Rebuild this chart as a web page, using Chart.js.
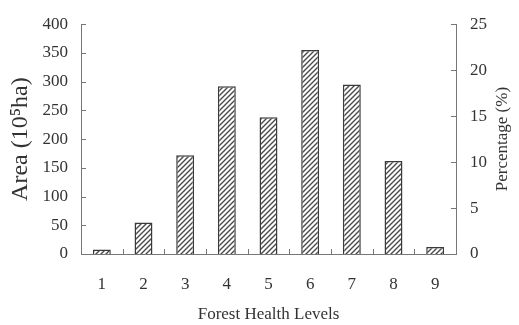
<!DOCTYPE html>
<html>
<head>
<meta charset="utf-8">
<script src="https://cdn.jsdelivr.net/npm/chart.js@4.4.0/dist/chart.umd.min.js"></script>
<style>
  html, body { margin: 0; padding: 0; background: #fff; }
  #wrap { width: 519px; height: 325px; }
</style>
</head>
<body>
<div id="wrap"><canvas id="c" width="519" height="325"></canvas></div>
<script>
var levels = ['1', '2', '3', '4', '5', '6', '7', '8', '9'];
var areaValues = [8, 55, 172, 292, 238, 355, 295, 162, 12];
var areaTicks = [0, 50, 100, 150, 200, 250, 300, 350, 400];
var pctTicks = [0, 5, 10, 15, 20, 25];

var FONT = '"Liberation Serif", "Times New Roman", serif';
var TXT = '#333';
var AXIS = '#777';

// diagonal hatch fill for the bars
function makeHatch() {
    var size = 5;
    var cv = document.createElement('canvas');
    cv.width = size; cv.height = size;
    var g = cv.getContext('2d');
    g.fillStyle = '#fff';
    g.fillRect(0, 0, size, size);
    g.strokeStyle = '#4a4a4a';
    g.lineWidth = 1.4;
    g.beginPath();
    g.moveTo(-1, size + 1); g.lineTo(size + 1, -1);
    g.moveTo(-1, 1); g.lineTo(1, -1);
    g.moveTo(size - 1, size + 1); g.lineTo(size + 1, size - 1);
    g.stroke();
    return g.createPattern(cv, 'repeat');
}

// small inward tick marks + right title
var innerTicks = {
    id: 'innerTicks',
    afterDraw: function(chart) {
        var ctx = chart.ctx;
        var y = chart.scales.y, y2 = chart.scales.y2, x = chart.scales.x;
        var area = chart.chartArea;
        ctx.save();
        ctx.strokeStyle = AXIS;
        ctx.lineWidth = 1;
        ctx.beginPath();
        areaTicks.forEach(function(v) {
            var py = Math.round(y.getPixelForValue(v)) + 0.5;
            ctx.moveTo(area.left, py); ctx.lineTo(area.left + 5, py);
        });
        pctTicks.forEach(function(v) {
            var py = Math.round(y2.getPixelForValue(v)) + 0.5;
            ctx.moveTo(area.right, py); ctx.lineTo(area.right - 5, py);
        });
        for (var i = 0; i < levels.length - 1; i++) {
            var px = Math.round((x.getPixelForValue(i) + x.getPixelForValue(i + 1)) / 2) + 0.5;
            ctx.moveTo(px, area.bottom); ctx.lineTo(px, area.bottom - 5);
        }
        ctx.stroke();

        ctx.fillStyle = TXT;
        ctx.font = '17px ' + FONT;
        ctx.textAlign = 'center';
        ctx.textBaseline = 'middle';
        ctx.translate(503, (area.top + area.bottom) / 2);
        ctx.rotate(-Math.PI / 2);
        ctx.fillText('Percentage (%)', 0, 0);
        ctx.restore();
    }
};

new Chart(document.getElementById('c'), {
    type: 'bar',
    data: {
        labels: levels,
        datasets: [{
            data: areaValues,
            backgroundColor: makeHatch(),
            borderColor: '#3a3a3a',
            borderWidth: 1.5,
            barPercentage: 0.43,
            categoryPercentage: 1,
            yAxisID: 'y'
        }]
    },
    options: {
        responsive: false,
        animation: false,
        layout: { padding: { top: 20, left: 0, right: 0, bottom: 0 } },
        plugins: { legend: { display: false }, tooltip: { enabled: false } },
        scales: {
            x: {
                grid: { display: false, drawTicks: false },
                border: { display: true, color: AXIS, width: 1 },
                ticks: { color: TXT, font: { family: FONT, size: 17 }, padding: 20 },
                title: { display: true, text: 'Forest Health Levels', color: TXT,
                         font: { family: FONT, size: 17 }, padding: { top: 0, bottom: 0 } },
                afterFit: function(s) { s.height = 71; }
            },
            y: {
                position: 'left',
                min: 0, max: 400,
                ticks: { stepSize: 50, color: TXT, font: { family: FONT, size: 17 }, padding: 13 },
                grid: { display: false, drawTicks: false },
                border: { display: true, color: AXIS, width: 1 },
                title: { display: true, text: 'Area (10\u2075ha)', color: TXT,
                         font: { family: FONT, size: 24 }, padding: { top: 6, bottom: 0 } },
                afterFit: function(s) { s.width = 81; }
            },
            y2: {
                position: 'right',
                min: 0, max: 25,
                ticks: { stepSize: 5, color: TXT, font: { family: FONT, size: 17 }, padding: 14 },
                grid: { display: false, drawTicks: false },
                border: { display: true, color: AXIS, width: 1 },
                afterFit: function(s) { s.width = 63; }
            }
        }
    },
    plugins: [innerTicks]
});
</script>
</body>
</html>
